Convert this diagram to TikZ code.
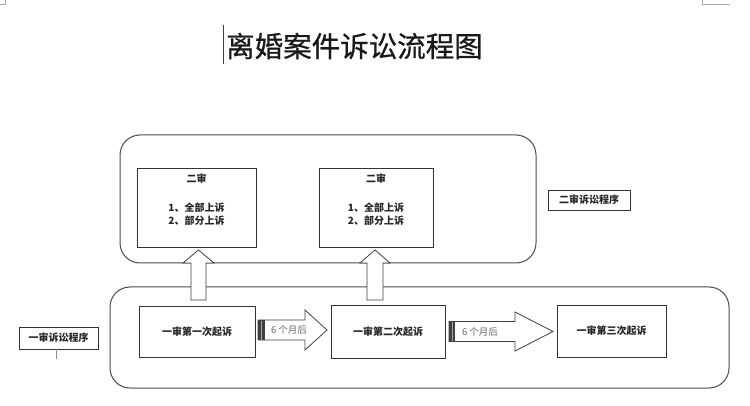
\documentclass[tikz,border=0pt]{standalone}
\usepackage{fontspec}
\setmainfont{Noto Sans CJK SC}
\newfontfamily\titlefont[FakeBold=0.7]{Noto Sans CJK SC}
\begin{document}
\begin{tikzpicture}[x=1pt,y=-1pt,
  box/.style={draw=black!80, line width=0.8pt, fill=white, inner sep=0pt},
  group/.style={draw=black!70, line width=1pt, rounded corners=20pt, inner sep=0pt},
  blockarrow/.style={draw=black!75, line width=0.8pt, fill=white, line join=miter},
  lbl/.style={font=\fontsize{10}{12}\selectfont\bfseries, text=black!85, inner sep=0pt},
  graytext/.style={font=\fontsize{9.5}{11}\selectfont, text=black!60, inner sep=0pt},
  cornermark/.style={draw=black!35, line width=0.8pt}]
\useasboundingbox (0,0) rectangle (750,406);
\fill[white] (0,0) rectangle (750,406);
% page corner marks
\draw[cornermark] (0,4) -- (5,4) -- (5,0);
\draw[cornermark] (702,0) -- (702,4) -- (730,4);
% title with cursor
\draw[line width=0.8pt, black!75] (223,25) -- (223,64);
\node[font=\titlefont\fontsize{28.5}{30}\selectfont, anchor=west, inner sep=0pt, text=black!90] (title) at (226,46) {离婚案件诉讼流程图};
% groups
\node[group, minimum width=416pt, minimum height=128pt] (upper) at (328,199) {};
\node[group, minimum width=619pt, minimum height=101pt] (lower) at (419.5,337.5) {};
% second-instance boxes
\node[box, minimum width=119pt, minimum height=79pt] (er1) at (196.5,207.5) {};
\node[box, minimum width=114pt, minimum height=79pt] (er2) at (376,207.5) {};
\node[lbl] (er1t) at (196.5,179) {二审};
\node[lbl, align=center] (er1l) at (196.5,214.5) {1、全部上诉\\[1pt]2、部分上诉};
\node[lbl] (er2t) at (376,179) {二审};
\node[lbl, align=center] (er2l) at (376,214.5) {1、全部上诉\\[1pt]2、部分上诉};
% labels
\node[box, minimum width=82pt, minimum height=20pt] (l2) at (589,200) {};
\node[lbl] at (l2) {二审诉讼程序};
\node[box, minimum width=79pt, minimum height=22pt] (l1) at (58.5,338) {};
\node[lbl] at (l1) {一审诉讼程序};
\coordinate (l1end) at (56,359);
\draw[black!45, line width=0.6pt] (l1.south -| l1end) -- (l1end);
% first-instance boxes
\node[box, minimum width=116pt, minimum height=51pt] (b1) at (197,331.5) {};
\node[box, minimum width=114pt, minimum height=53pt] (b2) at (388,331.5) {};
\node[box, minimum width=109pt, minimum height=52pt] (b3) at (611.5,331) {};
\node[lbl] at (b1) {一审第一次起诉};
\node[lbl] at (b2) {一审第二次起诉};
\node[lbl] at (b3) {一审第三次起诉};
% up arrows
\draw[blockarrow] (191,300) -- (191,263) -- (183,263) -- (198.5,250) -- (214,263) -- (206,263) -- (206,300) -- cycle;
\draw[blockarrow] (367,300) -- (367,263) -- (360,263) -- (375,250) -- (390,263) -- (383,263) -- (383,300) -- cycle;
% right arrows
\draw[blockarrow] (258,320) -- (305,320) -- (305,310) -- (327,330) -- (305,350) -- (305,340) -- (258,340) -- cycle;
\fill[black!75] (258,320) rectangle (265,340);
\draw[black!35, line width=1pt] (261.5,320.5) -- (261.5,339.5);
\node[graytext] (m1) at (289,330) {6 个月后};
\draw[blockarrow] (449,321.5) -- (515,321.5) -- (515,312) -- (553,331.5) -- (515,351) -- (515,341.5) -- (449,341.5) -- cycle;
\fill[black!75] (449,321.5) rectangle (455,341.5);
\draw[black!35, line width=1pt] (452,322) -- (452,341);
\node[graytext] (m2) at (480,331.5) {6 个月后};
\end{tikzpicture}
\end{document}
